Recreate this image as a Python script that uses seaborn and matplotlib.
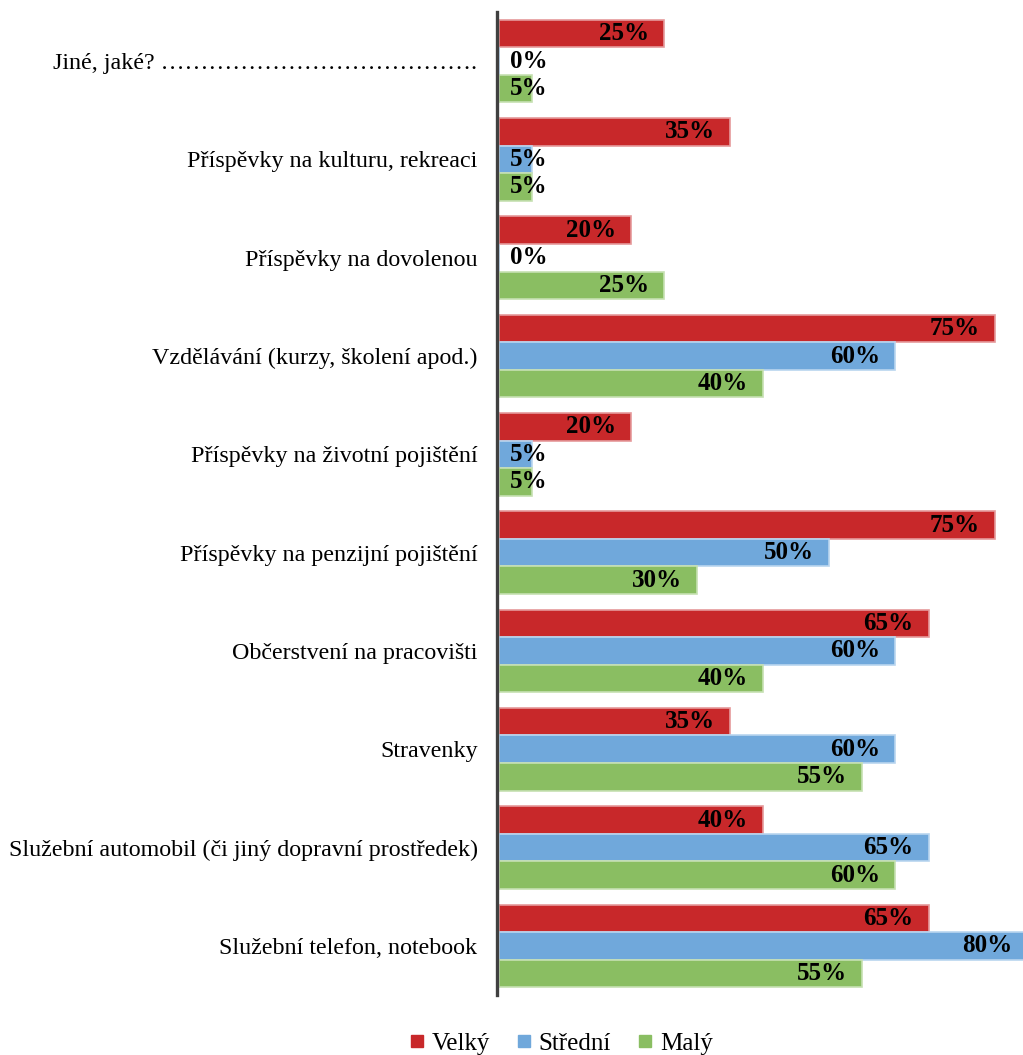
import matplotlib.pyplot as plt
import pandas as pd
import seaborn as sns
from matplotlib.lines import Line2D

categories = [
    "Jiné, jaké? ………………………………….",
    "Příspěvky na kulturu, rekreaci",
    "Příspěvky na dovolenou",
    "Vzdělávání (kurzy, školení apod.)",
    "Příspěvky na životní pojištění",
    "Příspěvky na penzijní pojištění",
    "Občerstvení na pracovišti",
    "Stravenky",
    "Služební automobil (či jiný dopravní prostředek)",
    "Služební telefon, notebook",
]
sizes = ["Velký", "Střední", "Malý"]
velky = [25, 35, 20, 75, 20, 75, 65, 35, 40, 65]
stredni = [0, 5, 0, 60, 5, 50, 60, 60, 65, 80]
maly = [5, 5, 25, 40, 5, 30, 40, 55, 60, 55]

colors = ["#C8282A", "#70A8DB", "#8ABE62"]
edges = ["#E59A9B", "#B9D5EF", "#C6E0B2"]

rows = []
for size, vals in zip(sizes, [velky, stredni, maly]):
    for cat, v in zip(categories, vals):
        rows.append({"Kategorie": cat, "Velikost": size, "Podil": v})
df = pd.DataFrame(rows)

sns.set_theme(style="white", rc={"text.color": "black", "ytick.color": "black"})
plt.rcParams["font.family"] = ["Liberation Serif", "DejaVu Serif"]

fig = plt.figure(figsize=(10.23, 10.55), dpi=100)
ax = fig.add_axes([0.4858, 0.0569, 0.5142, 0.9317])

sns.barplot(data=df, y="Kategorie", x="Podil", hue="Velikost", order=categories,
            hue_order=sizes, palette=colors, orient="h", width=0.84,
            legend=False, ax=ax, saturation=1)

for cont, vals, ec in zip(ax.containers, [velky, stredni, maly], edges):
    for bar, v in zip(cont, vals):
        bar.set_edgecolor(ec)
        bar.set_linewidth(1.2)
        y = bar.get_y() + bar.get_height() / 2
        ax.text(max(v - 2.3, 7.4), y, f"{v}%", ha="right", va="center",
                fontsize=18, fontweight="bold", color="black")

ax.set_xlim(-0.3, 79.3)
ax.set_xlabel("")
ax.set_ylabel("")
ax.set_xticks([])
ax.tick_params(axis="y", length=0, pad=14, labelsize=17.3, labelcolor="black")
for s in ["top", "right", "bottom"]:
    ax.spines[s].set_visible(False)
ax.spines["left"].set_color("#404040")
ax.spines["left"].set_linewidth(2.4)

handles = [Line2D([], [], marker="s", linestyle="", markersize=9,
                  markerfacecolor=c, markeredgecolor=c) for c in colors]
fig.legend(handles, sizes, loc="center", bbox_to_anchor=(0.546, 0.011), ncol=3,
           frameon=False, fontsize=18, handletextpad=0.1, columnspacing=0.85,
           handlelength=1.0)

fig.savefig("out.png", dpi=100)
